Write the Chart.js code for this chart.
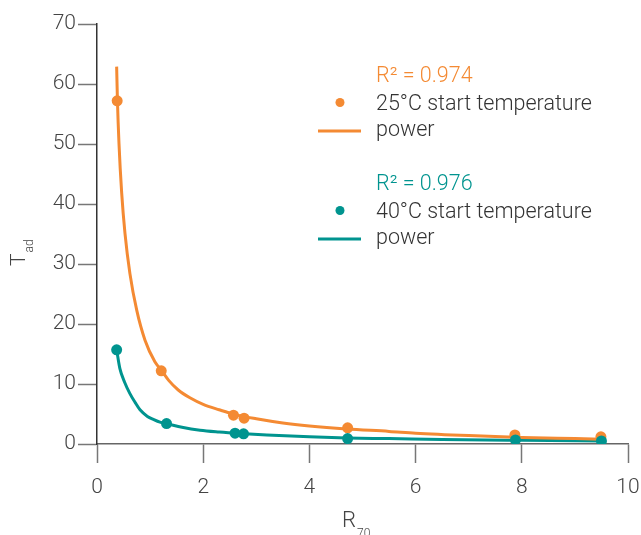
<!DOCTYPE html>
<html><head><meta charset="utf-8">
<script src="https://cdn.jsdelivr.net/npm/chart.js@4/dist/chart.umd.min.js"></script>
<style>html,body{margin:0;padding:0;background:#fff}#wrap{width:641px;height:535px;position:relative}</style>
</head><body><div id="wrap"><canvas id="c" width="641" height="535"></canvas></div>
<script>
// measured points
const r70_25 = [0.38, 1.21, 2.57, 2.77, 4.72, 7.87, 9.49];
const tad_25 = [57.2, 12.2, 4.8, 4.3, 2.7, 1.5, 1.2];
const r70_40 = [0.37, 1.31, 2.60, 2.76, 4.72, 7.88, 9.50];
const tad_40 = [15.7, 3.4, 1.8, 1.7, 0.9, 0.67, 0.5];
// power trend lines
const fit25_x = [0.37, 0.385, 0.414, 0.465, 0.527, 0.62, 0.748, 0.904, 1.09, 1.22, 1.35, 1.53, 1.75, 2.0, 2.3, 2.6, 3.0, 3.5, 4.0, 4.7, 5.5, 6.0, 7.0, 8.0, 9.0, 9.5];
const fit25_y = [62.9, 57.2, 50.1, 41.8, 35.1, 28.4, 22.3, 17.3, 13.7, 12.2, 10.6, 9.0, 7.7, 6.6, 5.7, 4.9, 4.2, 3.5, 3.0, 2.5, 2.1, 1.8, 1.4, 1.1, 0.9, 0.8];
const fit40_x = [0.37, 0.43, 0.52, 0.62, 0.72, 0.81, 0.95, 1.06, 1.2, 1.31, 1.6, 1.94, 2.3, 2.7, 3.2, 4.0, 4.7, 5.5, 6.5, 8.0, 9.5];
const fit40_y = [15.7, 12.6, 10.3, 8.4, 6.9, 5.7, 4.6, 4.1, 3.6, 3.4, 2.8, 2.3, 2.0, 1.75, 1.5, 1.2, 1.0, 0.9, 0.75, 0.62, 0.52];
const xTicks = [0, 2, 4, 6, 8, 10];
const yTicks = [0, 10, 20, 30, 40, 50, 60, 70];
const legendItems = [
  {r2: 'R² = 0.974', label: '25°C start temperature', fit: 'power'},
  {r2: 'R² = 0.976', label: '40°C start temperature', fit: 'power'}
];

const ORANGE = '#F48A33';
const TEAL = '#00948F';
const FONT = 'Roboto, "Liberation Sans", sans-serif';

const pts = (xs, ys) => xs.map((x, i) => ({x: x, y: ys[i]}));

const overlay = {
  id: 'overlay',
  afterDraw(chart) {
    const ctx = chart.ctx;
    ctx.save();
    // axis titles
    ctx.fillStyle = '#444';
    ctx.textBaseline = 'alphabetic';
    ctx.textAlign = 'left';
    ctx.font = '300 22px ' + FONT;
    ctx.fillText('R', 342, 527);
    const wR = ctx.measureText('R').width;
    ctx.font = '300 12px ' + FONT;
    ctx.fillText('70', 342 + wR + 1, 537);
    ctx.save();
    ctx.translate(25, 266);
    ctx.rotate(-Math.PI / 2);
    ctx.font = '300 21px ' + FONT;
    ctx.fillText('T', 0, 0);
    const wT = ctx.measureText('T').width;
    ctx.font = '300 12px ' + FONT;
    ctx.fillText('ad', wT + 1, 8);
    ctx.restore();
    // legend
    const colors = [ORANGE, TEAL];
    const baseY = [82, 190];
    legendItems.forEach((it, i) => {
      const y0 = baseY[i];
      ctx.font = '300 21.5px ' + FONT;
      ctx.fillStyle = colors[i];
      ctx.fillText(it.r2, 376, y0);
      ctx.beginPath();
      ctx.arc(340, y0 + 20.5, 4.5, 0, Math.PI * 2);
      ctx.fill();
      ctx.fillStyle = '#333';
      ctx.fillText(it.label, 376, y0 + 28);
      ctx.fillText(it.fit, 376, y0 + 54);
      ctx.strokeStyle = colors[i];
      ctx.lineWidth = 3;
      ctx.beginPath();
      ctx.moveTo(318, y0 + 49);
      ctx.lineTo(361, y0 + 49);
      ctx.stroke();
    });
    ctx.restore();
  }
};

new Chart(document.getElementById('c'), {
  type: 'scatter',
  data: {
    datasets: [
      {label: 'power 25', data: pts(fit25_x, fit25_y), showLine: true, pointRadius: 0, borderColor: ORANGE, borderWidth: 3, cubicInterpolationMode: 'monotone', order: 3},
      {label: 'power 40', data: pts(fit40_x, fit40_y), showLine: true, pointRadius: 0, borderColor: TEAL, borderWidth: 3, cubicInterpolationMode: 'monotone', order: 4},
      {label: '25°C start temperature', data: pts(r70_25, tad_25), pointRadius: 5.5, backgroundColor: ORANGE, borderColor: ORANGE, borderWidth: 0, order: 2},
      {label: '40°C start temperature', data: pts(r70_40, tad_40), pointRadius: 5.5, backgroundColor: TEAL, borderColor: TEAL, borderWidth: 0, order: 1}
    ]
  },
  options: {
    responsive: false,
    animation: false,
    layout: {padding: {top: 24, right: 13, left: 0, bottom: 0}},
    plugins: {legend: {display: false}, tooltip: {enabled: false}},
    scales: {
      x: {
        type: 'linear', min: 0, max: 10,
        afterBuildTicks: s => { s.ticks = xTicks.map(v => ({value: v})); },
        afterFit: s => { s.height = 91; s.paddingRight = 0; s.paddingLeft = 0; },
        ticks: {color: '#444', font: {family: FONT, size: 21, weight: 300}, padding: 12, maxRotation: 0},
        grid: {drawOnChartArea: false, drawTicks: true, tickLength: 19, color: '#777', tickWidth: 1.5},
        border: {color: '#666', width: 1.5}
      },
      y: {
        type: 'linear', min: 0, max: 70,
        afterBuildTicks: s => { s.ticks = yTicks.map(v => ({value: v})); },
        afterFit: s => { s.width = 97; s.paddingTop = 0; s.paddingBottom = 0; },
        ticks: {color: '#444', font: {family: FONT, size: 21, weight: 300}, padding: 2},
        grid: {drawOnChartArea: false, drawTicks: true, tickLength: 19, color: '#777', tickWidth: 1.5},
        border: {color: '#333', width: 1.5}
      }
    }
  },
  plugins: [overlay]
});
</script>
</body></html>
